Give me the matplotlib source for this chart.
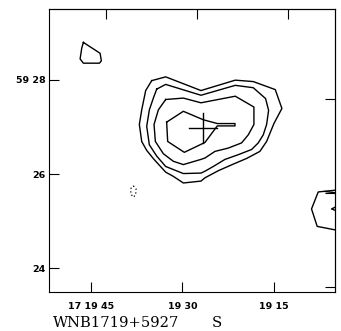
import matplotlib
matplotlib.use("Agg")
from matplotlib import pyplot as plt
import numpy as np

# RA in seconds past 17h19m, Dec in arcmin past +59d
ra_ticks = [45, 30, 15]
ra_labels = ['17 19 45', '19 30', '19 15']
dec_ticks = [28, 26, 24]
dec_labels = ['59 28', '26', '24']
ra_top_ticks = [42.5, 27.6, 12.7]
dec_right_ticks = [27.6, 25.6, 23.6]

# source contours, outermost to innermost
c1_ra = [35.05, 32.76, 26.97, 21.34, 18.39, 14.78, 13.69, 15.00, 16.20, 17.30, 19.48,
         21.67, 24.13, 26.31, 26.97, 29.86, 31.50, 32.76, 34.67, 35.87, 36.69, 37.08,
         36.69, 36.04]
c1_dec = [27.98, 28.06, 27.77, 27.99, 27.96, 27.79, 27.39, 27.07, 26.69, 26.48, 26.33,
          26.21, 26.07, 25.92, 25.85, 25.81, 25.95, 26.04, 26.31, 26.50, 26.69, 27.05,
          27.36, 27.77]

c2_ra = [34.23, 32.76, 26.97, 21.34, 18.39, 16.37, 15.87, 16.20, 16.75, 17.57, 18.66,
         20.85, 23.03, 24.95, 26.31, 26.97, 29.86, 32.76, 34.23, 35.44, 35.87, 35.44, 34.78]
c2_dec = [27.80, 27.90, 27.67, 27.88, 27.83, 27.60, 27.35, 27.05, 26.83, 26.66, 26.52,
          26.41, 26.31, 26.16, 26.06, 26.02, 26.01, 26.16, 26.38, 26.62, 27.01, 27.36, 27.61]

c3_ra = [32.76, 29.86, 26.97, 21.34, 18.28, 18.28, 19.21, 20.30, 22.49, 24.67, 26.31,
         26.97, 29.86, 31.50, 33.14, 34.45, 34.67, 33.96]
c3_dec = [27.58, 27.61, 27.51, 27.65, 27.42, 27.05, 26.83, 26.66, 26.55, 26.48, 26.34,
          26.31, 26.20, 26.27, 26.43, 26.69, 27.05, 27.36]

c4_ra = [32.60, 29.86, 26.58, 24.29, 21.39, 21.39, 24.29, 26.31, 29.70, 32.43]
c4_dec = [27.10, 27.33, 27.15, 27.07, 27.07, 27.02, 27.02, 26.67, 26.46, 26.69]

# small blob to the north-east
c5_ra = [46.26, 43.52, 43.31, 43.63, 46.26, 46.80, 46.53]
c5_dec = [28.79, 28.56, 28.40, 28.35, 28.35, 28.44, 28.67]

# negative contour
neg_ra = [38.06, 37.62, 37.68, 38.06, 38.50, 38.44]
neg_dec = [25.75, 25.68, 25.56, 25.51, 25.58, 25.70]

# source at the western edge
edge_ra = [4.73, 7.73, 8.83, 7.90, 4.73]
edge_dec = [25.66, 25.62, 25.26, 24.89, 24.81]
edge2_ra = [6.64, 4.73]
edge2_dec = [25.63, 25.60]
edge3_ra = [4.73, 5.55, 4.73]
edge3_dec = [25.31, 25.26, 25.22]

# optical position and error bar
src_ra, src_dec = 26.6, 26.98
err_ra, err_dec = 2.3, 0.32

fig = plt.figure(figsize=(3.41, 3.31), dpi=100)
ax = fig.add_axes([0.145, 0.118, 0.837, 0.855])

closed = [(c1_ra, c1_dec), (c2_ra, c2_dec), (c3_ra, c3_dec), (c4_ra, c4_dec), (c5_ra, c5_dec)]
for r, d in closed:
    ax.plot(r + r[:1], d + d[:1], color='black', lw=1.0)

ax.plot(neg_ra + neg_ra[:1], neg_dec + neg_dec[:1], color='black', lw=0.9, ls=(0, (1, 2)))
for r, d in [(edge_ra, edge_dec), (edge2_ra, edge2_dec), (edge3_ra, edge3_dec)]:
    ax.plot(r, d, color='black', lw=1.0)

ax.plot([src_ra - err_ra, src_ra + err_ra], [src_dec, src_dec], color='black', lw=1.0)
ax.plot([src_ra, src_ra], [src_dec - err_dec, src_dec + err_dec], color='black', lw=1.0)

ax.set_xlim(51.83, 5.0)
ax.set_ylim(23.5, 29.5)

ax.set_xticks(ra_ticks)
ax.set_xticklabels(ra_labels, fontsize=6.8, fontweight='bold')
ax.set_yticks(dec_ticks)
ax.set_yticklabels(dec_labels, fontsize=6.8, fontweight='bold')
ax.tick_params(axis='x', direction='in', length=7, width=0.8, pad=7)
ax.tick_params(axis='y', direction='in', length=7, width=0.8, pad=2.5)

top = ax.secondary_xaxis('top')
top.set_xticks(ra_top_ticks)
top.set_xticklabels([])
top.tick_params(direction='in', length=7, width=0.8)
right = ax.secondary_yaxis('right')
right.set_yticks(dec_right_ticks)
right.set_yticklabels([])
right.tick_params(direction='in', length=7, width=0.8)

for sp in list(ax.spines.values()) + [top.spines['top'], right.spines['right']]:
    sp.set_linewidth(0.8)

fig.text(0.155, 0.013, 'WNB1719+5927', family='DejaVu Serif', fontsize=10.6, va='baseline')
fig.text(0.622, 0.013, 'S', family='DejaVu Serif', fontsize=10.6, va='baseline')

fig.savefig('out.png', dpi=100)
